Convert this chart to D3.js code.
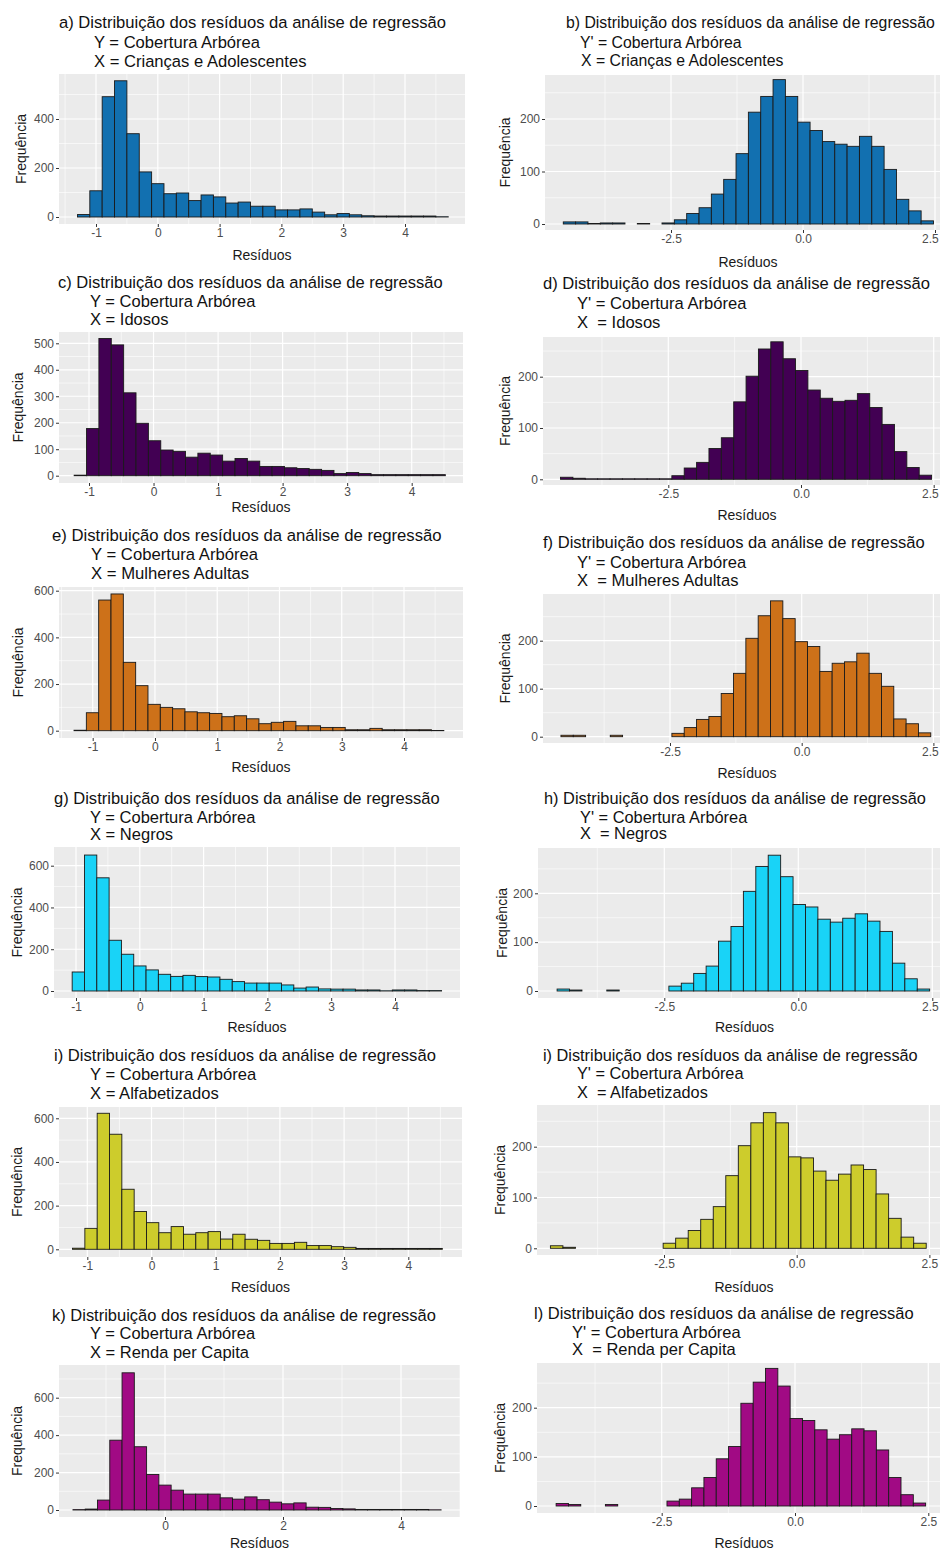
<!DOCTYPE html>
<html><head><meta charset="utf-8">
<script src="https://cdn.jsdelivr.net/npm/d3@7"></script>
<style>
body{margin:0;background:#fff}
svg{display:block}
text{font-family:"Liberation Sans",Arial,sans-serif}
</style>
</head><body>
<svg id="c" width="940" height="1552"></svg>
<script>
// ---------- text ----------
const titleLine1 = [
  "a) Distribuição dos resíduos da análise de regressão",
  "b) Distribuição dos resíduos da análise de regressão",
  "c) Distribuição dos resíduos da análise de regressão",
  "d) Distribuição dos resíduos da análise de regressão",
  "e) Distribuição dos resíduos da análise de regressão",
  "f) Distribuição dos resíduos da análise de regressão",
  "g) Distribuição dos resíduos da análise de regressão",
  "h) Distribuição dos resíduos da análise de regressão",
  "i) Distribuição dos resíduos da análise de regressão",
  "i) Distribuição dos resíduos da análise de regressão",
  "k) Distribuição dos resíduos da análise de regressão",
  "l) Distribuição dos resíduos da análise de regressão"
];
const titleLine2 = [
  "Y = Cobertura Arbórea", "Y' = Cobertura Arbórea",
  "Y = Cobertura Arbórea", "Y' = Cobertura Arbórea",
  "Y = Cobertura Arbórea", "Y' = Cobertura Arbórea",
  "Y = Cobertura Arbórea", "Y' = Cobertura Arbórea",
  "Y = Cobertura Arbórea", "Y' = Cobertura Arbórea",
  "Y = Cobertura Arbórea", "Y' = Cobertura Arbórea"
];
const titleLine3 = [
  "X = Crianças e Adolescentes", "X = Crianças e Adolescentes",
  "X = Idosos", "X  = Idosos",
  "X = Mulheres Adultas", "X  = Mulheres Adultas",
  "X = Negros", "X  = Negros",
  "X = Alfabetizados", "X  = Alfabetizados",
  "X = Renda per Capita", "X  = Renda per Capita"
];
const xAxisTitle = "Resíduos";
const yAxisTitle = "Frequência";

// ---------- tick labels ----------
const xTicksLeft = [-1, 0, 1, 2, 3, 4];
const xTicksLeftK = [0, 2, 4];
const xTicksRight = [-2.5, 0, 2.5];
const yTicksA = [0, 200, 400];
const yTicksC = [0, 100, 200, 300, 400, 500];
const yTicks600 = [0, 200, 400, 600];
const yTicksRight = [0, 100, 200];

// ---------- bins (start, width) ----------
const binsA = [-1.30, 0.200];
const binsB = [-4.54, 0.2337];
const binsC = [-1.23, 0.1917];
const binsD = [-4.53, 0.2330];
const binsE = [-1.30, 0.198];
const binsF = [-4.57, 0.2340];
const binsG = [-1.06, 0.193];
const binsH = [-4.50, 0.2317];
const binsI = [-1.23, 0.192];
const binsJ = [-4.64, 0.2360];
const binsK = [-1.56, 0.208];
const binsL = [-4.48, 0.2310];

// ---------- counts ----------
const countsA = [10,107,491,556,340,184,136,95,98,67,90,82,57,61,44,44,29,29,33,20,9,14,9,5,4,4,4,4,4,1];
const countsB = [4,4,1,2,2,0,1,0,2,8,20,31,57,85,134,213,243,275,243,194,178,157,152,148,167,148,104,47,25,6];
const countsC = [2,178,518,494,313,198,132,97,92,70,85,78,55,65,55,35,35,30,27,24,20,8,12,8,4,4,4,4,4,4];
const countsD = [4,2,1,1,1,1,1,1,1,7,22,33,60,81,151,201,254,268,235,212,174,158,152,154,167,140,107,54,23,8];
const countsE = [2,77,560,586,293,193,113,100,94,81,77,74,60,64,51,30,36,40,21,21,14,14,4,4,10,4,4,4,4,1];
const countsF = [3,3,0,0,3,0,0,0,0,7,19,36,42,90,132,205,252,283,246,198,188,136,153,156,174,132,105,37,27,8];
const countsG = [91,651,542,243,176,120,101,80,70,75,69,67,56,45,38,38,38,29,14,19,10,9,9,5,5,1,5,5,2,2];
const countsH = [4,2,0,0,2,0,0,0,0,10,16,36,51,102,132,204,255,278,234,177,172,147,141,149,158,143,122,57,25,4];
const countsI = [5,96,623,527,275,173,122,76,104,69,76,81,47,69,46,41,27,27,32,17,17,12,9,4,4,4,4,4,4,4];
const countsJ = [5,2,0,0,0,0,0,0,0,10,20,35,57,82,143,202,247,267,247,180,178,152,134,146,164,155,107,59,22,10];
const countsK = [2,5,53,373,733,338,190,133,106,85,85,85,65,58,70,55,42,33,38,15,14,8,6,3,3,3,3,3,3,1];
const countsL = [5,3,0,0,3,0,0,0,0,10,14,37,58,96,121,209,252,280,244,178,174,155,136,145,157,153,114,58,23,6];

// ---------- colours ----------
const fillColours = ["#1270B0","#1270B0","#420053","#420053","#CD7119","#CD7119",
                     "#19D3F7","#19D3F7","#CDCC2C","#CDCC2C","#A10A84","#A10A84"];

// ---------- layout (positions only) ----------
const layout = [
  {box:[59,74,465,224],   xa:[-1,96,4,405],      ya:[0,217,400,119],   xt:xTicksLeft, yt:yTicksA,
   tp:[[59,22],[94,42],[94,61]], tw:387, xtY:255, ytX:21},
  {box:[545,75,951,230],  xa:[-2.5,671,0,803],   ya:[0,224,200,119],   xt:xTicksRight, yt:yTicksRight,
   tp:[[566,22],[580,42],[581,60]], tw:369, xtY:262, ytX:505},
  {box:[59,332,463,483],  xa:[-1,89,4,411.7],    ya:[0,475.7,500,343.3], xt:xTicksLeft, yt:yTicksC,
   tp:[[58,282],[90,301],[90,319]], tw:385, xtY:507, ytX:18},
  {box:[543,337,951,485], xa:[-2.5,668.3,0,801], ya:[0,479.3,200,376.7], xt:xTicksRight, yt:yTicksRight,
   tp:[[543,283],[577,303],[577,322]], tw:387, xtY:515, ytX:505},
  {box:[59,587,463,738],  xa:[-1,92.7,4,404],    ya:[0,730.7,600,590.7], xt:xTicksLeft, yt:yTicks600,
   tp:[[52,535],[91,554],[91,573]], tw:390, xtY:767, ytX:18},
  {box:[543,594,951,743], xa:[-2.5,670,0,801.7], ya:[0,736.7,200,640.7], xt:xTicksRight, yt:yTicksRight,
   tp:[[543,542],[577,562],[577,580]], tw:382, xtY:773, ytX:505},
  {box:[54,847,460,998],  xa:[-1,76,4,395],      ya:[0,991,600,865.7], xt:xTicksLeft, yt:yTicks600,
   tp:[[54,798],[90,817],[90,834]], tw:386, xtY:1027, ytX:17},
  {box:[538,848,951,998], xa:[-2.5,664.3,0,798.3], ya:[0,991,200,893.3], xt:xTicksRight, yt:yTicksRight,
   tp:[[544,798],[580,817],[580,833]], tw:382, xtY:1027, ytX:502},
  {box:[59,1107,462,1257], xa:[-1,87.3,4,408.3], ya:[0,1249.3,600,1118.3], xt:xTicksLeft, yt:yTicks600,
   tp:[[54,1055],[90,1074],[90,1093]], tw:382, xtY:1287, ytX:17},
  {box:[537,1105,951,1255], xa:[-2.5,664,0,796.7], ya:[0,1248.3,200,1146.7], xt:xTicksRight, yt:yTicksRight,
   tp:[[543,1055],[577,1073],[577,1092]], tw:375, xtY:1287, ytX:500},
  {box:[59,1365,460,1517], xa:[0,165,4,401],     ya:[0,1510,600,1397.7], xt:xTicksLeftK, yt:yTicks600,
   tp:[[52,1315],[90,1333],[90,1352]], tw:384, xtY:1543, ytX:17},
  {box:[537,1363,951,1513], xa:[-2.5,661.7,0,795], ya:[0,1506,200,1407.7], xt:xTicksRight, yt:yTicksRight,
   tp:[[534,1313],[572,1332],[572,1349]], tw:380, xtY:1543, ytX:500}
];

const allCounts = [countsA,countsB,countsC,countsD,countsE,countsF,countsG,countsH,countsI,countsJ,countsK,countsL];
const allBins = [binsA,binsB,binsC,binsD,binsE,binsF,binsG,binsH,binsI,binsJ,binsK,binsL];

const svg = d3.select("#c");
const W = 940;

function minorsFrom(major, lo, hi){
  const step = major[1]-major[0];
  const out = [];
  for (let v = major[0] - step/2 - step*20; v <= hi; v += step){
    if (v >= lo && v <= hi) out.push(v);
  }
  return out;
}

layout.forEach((p, i) => {
  const g = svg.append("g");
  const [L,T,R,B] = p.box;
  const x = d3.scaleLinear().domain([p.xa[0], p.xa[2]]).range([p.xa[1], p.xa[3]]);
  const y = d3.scaleLinear().domain([p.ya[0], p.ya[2]]).range([p.ya[1], p.ya[3]]);
  const xLo = x.invert(L), xHi = x.invert(R);
  const yLo = y.invert(B), yHi = y.invert(T);

  g.append("rect").attr("x",L).attr("y",T).attr("width",R-L).attr("height",B-T).attr("fill","#EBEBEB");

  // minor grid
  g.selectAll(".mx").data(minorsFrom(p.xt, xLo, xHi)).join("line")
    .attr("x1",d=>x(d)).attr("x2",d=>x(d)).attr("y1",T).attr("y2",B)
    .attr("stroke","#fff").attr("stroke-width",0.6);
  g.selectAll(".my").data(minorsFrom(p.yt, yLo, yHi)).join("line")
    .attr("x1",L).attr("x2",R).attr("y1",d=>y(d)).attr("y2",d=>y(d))
    .attr("stroke","#fff").attr("stroke-width",0.6);
  // major grid
  g.selectAll(".Mx").data(p.xt.filter(v=>v>=xLo&&v<=xHi)).join("line")
    .attr("x1",d=>x(d)).attr("x2",d=>x(d)).attr("y1",T).attr("y2",B)
    .attr("stroke","#fff").attr("stroke-width",1.2);
  g.selectAll(".My").data(p.yt.filter(v=>v>=yLo&&v<=yHi)).join("line")
    .attr("x1",L).attr("x2",R).attr("y1",d=>y(d)).attr("y2",d=>y(d))
    .attr("stroke","#fff").attr("stroke-width",1.2);

  // bars
  const [start, w] = allBins[i];
  const bars = allCounts[i].map((c,k)=>({x0:start+k*w, x1:start+(k+1)*w, c}));
  g.selectAll(".bar").data(bars).join("rect")
    .attr("x",d=>x(d.x0)).attr("width",d=>x(d.x1)-x(d.x0))
    .attr("y",d=>y(d.c)).attr("height",d=>y(0)-y(d.c))
    .attr("fill",fillColours[i]).attr("stroke","#1a1a1a").attr("stroke-width",0.9);

  // axes
  const fmt = i%2===1 ? d3.format(".1f") : d3.format("d");
  const xAxis = d3.axisBottom(x).tickValues(p.xt).tickSize(3).tickPadding(1)
    .tickFormat(d => fmt(d).replace("\u2212","-"));
  const ax = g.append("g").attr("transform",`translate(0,${B})`).call(xAxis);
  const ay = g.append("g").attr("transform",`translate(${L},0)`)
    .call(d3.axisLeft(y).tickValues(p.yt).tickSize(3).tickPadding(2));
  [ax, ay].forEach(a => {
    a.select(".domain").remove();
    a.selectAll(".tick line").attr("stroke","#333");
    a.selectAll(".tick text").attr("fill","#4D4D4D").style("font-size","12px")
      .style("font-family","'Liberation Sans',Arial,sans-serif");
  });
  // keep edge labels inside the picture
  ax.selectAll(".tick text").each(function(){
    const bb = this.getBBox();
    const tick = this.parentNode;
    const tx = +tick.getAttribute("transform").match(/translate\(([-\d.]+)/)[1];
    const overflow = tx + bb.x + bb.width - (W - 1);
    if (overflow > 0) d3.select(this).attr("x", -overflow);
  });

  // axis titles
  g.append("text").attr("x",(L+R)/2).attr("y",p.xtY).attr("text-anchor","middle")
    .attr("dominant-baseline","central").attr("fill","#1a1a1a").style("font-size","14px").text(xAxisTitle);
  g.append("text").attr("transform",`translate(${p.ytX},${(T+B)/2}) rotate(-90)`)
    .attr("text-anchor","middle").attr("dominant-baseline","central").attr("fill","#1a1a1a")
    .style("font-size","14px").text(yAxisTitle);

  // titles (font sized so line 1 spans the measured width)
  const lines = [titleLine1[i], titleLine2[i], titleLine3[i]];
  const nodes = lines.map((t, k) =>
    g.append("text").attr("x",p.tp[k][0]).attr("y",p.tp[k][1])
      .attr("dominant-baseline","central").attr("fill","#111")
      .style("font-size","16px").style("white-space","pre").text(t));
  const w1 = nodes[0].node().getComputedTextLength();
  let fs = 16 * p.tw / w1;
  fs = Math.min(fs, 16 * (W - 2 - p.tp[0][0]) / w1);
  nodes.forEach(n => n.style("font-size", fs.toFixed(2) + "px"));
});
</script>
</body></html>
